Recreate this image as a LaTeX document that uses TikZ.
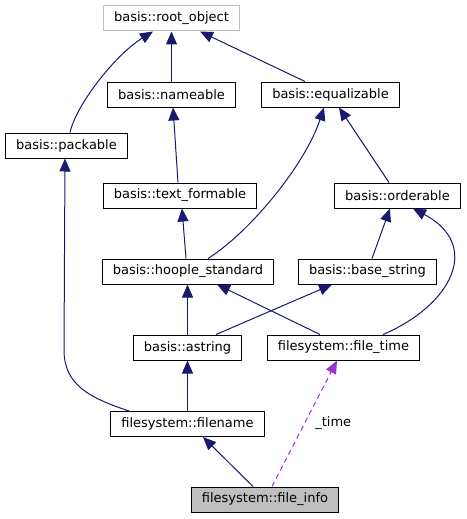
\documentclass[tikz,border=0pt]{standalone}
\usepackage{fontspec}
\setmainfont{DejaVu Sans}
\usetikzlibrary{arrows.meta}
\definecolor{edgeblue}{HTML}{191970}
\definecolor{memberpurple}{HTML}{9A32CD}
\begin{document}
\begin{tikzpicture}[x=1pt,y=-1pt,
  cls/.style={draw=black,line width=1pt,rectangle,inner xsep=10.5pt,inner ysep=0pt,minimum height=25pt,font=\fontsize{13}{15}\selectfont},
  inherit/.style={draw=edgeblue,line width=1pt,-{Triangle[length=13pt,width=11pt,fill=edgeblue]}},
  usage/.style={draw=memberpurple,line width=1pt,dash pattern=on 5pt off 4pt,-{Triangle[length=13pt,width=11pt,fill=memberpurple]}}]
\useasboundingbox (0,0) rectangle (466,519);
\node[cls,draw=black!25] (root) at (171.5,18.5) {basis::root\_object};
\node[cls] (nameable) at (171.5,94.5) {basis::nameable};
\node[cls] (equalizable) at (330.5,94.5) {basis::equalizable};
\node[cls] (packable) at (66.5,145.5) {basis::packable};
\node[cls] (textformable) at (180,195.5) {basis::text\_formable};
\node[cls] (orderable) at (397.5,195.5) {basis::orderable};
\node[cls] (hoople) at (188,271.5) {basis::hoople\_standard};
\node[cls] (basestring) at (367.5,271.5) {basis::base\_string};
\node[cls] (astring) at (187.5,347.5) {basis::astring};
\node[cls] (filetime) at (343.5,347.5) {filesystem::file\_time};
\node[cls] (filename) at (187.5,424) {filesystem::filename};
\node[cls,fill=black!25] (fileinfo) at (265,499.5) {filesystem::file\_info};
%% inheritance
\draw[inherit] ([xshift=3.5pt]packable.north) .. controls (76,105) and (115,55) .. ([xshift=-18.5pt]root.south);
\draw[inherit] (nameable.north) -- (root.south);
\draw[inherit] ([xshift=-25.5pt]equalizable.north) -- ([xshift=28.5pt]root.south);
\draw[inherit] ([xshift=-2pt]textformable.north) -- ([xshift=1.5pt]nameable.south);
\draw[inherit] ([xshift=-2pt]hoople.north) -- ([xshift=2pt]textformable.south);
\draw[inherit] ([xshift=20pt]hoople.north) .. controls (250,232) and (305,165) .. ([xshift=-6.5pt]equalizable.south);
\draw[inherit] ([xshift=-8.5pt]orderable.north) -- ([xshift=8.5pt]equalizable.south);
\draw[inherit] ([xshift=4.5pt]basestring.north) -- ([xshift=-7.5pt]orderable.south);
\draw[inherit] (astring.north) -- (astring.north |- hoople.south);
\draw[inherit] ([xshift=-23.5pt]filetime.north) -- ([xshift=29pt]hoople.south);
\draw[inherit] ([xshift=28.5pt]astring.north) -- ([xshift=-35.5pt]basestring.south);
\draw[inherit] ([xshift=39.5pt]filetime.north) .. controls (452,305) and (482,245) .. ([xshift=15.5pt]orderable.south);
\draw[inherit] (filename.north) -- (astring.south);
\draw[inherit] ([xshift=-58.5pt]filename.north) .. controls (90,398) and (64,385) .. (64,350) -- ([xshift=-1.5pt]packable.south);
\draw[inherit] ([xshift=-12pt]fileinfo.north) -- ([xshift=15.5pt]filename.south);
%% member
\draw[usage] ([xshift=7pt]fileinfo.north) -- node[right=7pt,pos=0.5,font=\fontsize{13}{15}\selectfont] (timelabel) {\_time} ([xshift=-6.5pt]filetime.south);
\end{tikzpicture}
\end{document}
